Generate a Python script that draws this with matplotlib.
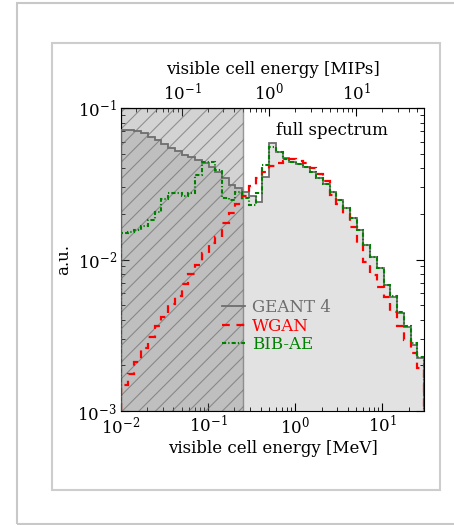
import numpy as np
import matplotlib
matplotlib.use("Agg")
import matplotlib.pyplot as plt
from matplotlib.patches import Rectangle

plt.rcParams["font.family"] = "DejaVu Serif"
plt.rcParams["mathtext.fontset"] = "dejavuserif"
plt.rcParams["font.size"] = 12
plt.rcParams["hatch.linewidth"] = 0.8

# log binning in visible cell energy [MeV]
e_min, e_max, n_bins = 0.01, 30.0, 45
mip = 0.5  # MeV per MIP
cut = 0.25  # MeV, half a MIP

geant4 = [0.0716, 0.0716, 0.0705, 0.0684, 0.0644, 0.0615, 0.0578, 0.0545, 0.0520,
          0.0490, 0.0475, 0.0454, 0.0434, 0.0408, 0.0378, 0.0345, 0.0310, 0.0297,
          0.0279, 0.0263, 0.0240, 0.0351, 0.0587, 0.0513, 0.0468, 0.0440, 0.0427,
          0.0408, 0.0378, 0.0345, 0.0315, 0.0279, 0.0247, 0.0219, 0.0188, 0.0157,
          0.0125, 0.0104, 0.00879, 0.00679, 0.00565, 0.00443, 0.00358, 0.00273, 0.00224]
wgan = [0.00148, 0.00175, 0.00211, 0.00261, 0.00308, 0.00364, 0.00417, 0.00508, 0.00574,
        0.00689, 0.00802, 0.00920, 0.0110, 0.0129, 0.0141, 0.0174, 0.0203, 0.0233,
        0.0263, 0.0306, 0.0345, 0.0378, 0.0414, 0.0434, 0.0447, 0.0461, 0.0447,
        0.0434, 0.0402, 0.0367, 0.0330, 0.0267, 0.0233, 0.0200, 0.0164, 0.0129,
        0.00962, 0.00790, 0.00658, 0.00565, 0.00450, 0.00364, 0.00294, 0.00242, 0.00192]
bibae = [0.0150, 0.0152, 0.0157, 0.0166, 0.0182, 0.0206, 0.0251, 0.0275, 0.0275,
         0.0263, 0.0275, 0.0361, 0.0440, 0.0440, 0.0390, 0.0255, 0.0247, 0.0279,
         0.0255, 0.0229, 0.0275, 0.0421, 0.0553, 0.0513, 0.0461, 0.0440, 0.0427,
         0.0408, 0.0378, 0.0345, 0.0315, 0.0279, 0.0247, 0.0219, 0.0188, 0.0157,
         0.0125, 0.0104, 0.00879, 0.00679, 0.00574, 0.00450, 0.00364, 0.00281, 0.00227]
mip_ticks = [0.1, 1, 10]

edges = np.logspace(np.log10(e_min), np.log10(e_max), n_bins + 1)

fig = plt.figure(figsize=(4.54, 5.25), dpi=100)

# page / card frames
fig.patches.append(Rectangle((17/454, 1/525), 1.2, 521/525, transform=fig.transFigure,
                             fill=False, edgecolor="#c8c8c8", lw=1.5))
fig.patches.append(Rectangle((52/454, 1 - 490/525), 388/454, 447/525, transform=fig.transFigure,
                             fill=False, edgecolor="#cdcdcd", lw=1.5))

ax = fig.add_axes([121/454, 1 - 411/525, 303/454, 303/525])

base = 1e-4
ax.stairs(geant4, edges, baseline=base, fill=True, color="#e2e2e2", zorder=1)
ax.axvspan(e_min, cut, facecolor=(0.45, 0.45, 0.45, 0.31), edgecolor=(0.42, 0.42, 0.42, 0.65),
           hatch="//", lw=1, zorder=2)
ax.stairs(geant4, edges, baseline=base, color="#6e6e6e", lw=1.3, zorder=3, label="GEANT 4")
ax.stairs(wgan, edges, baseline=base, color="red", lw=1.6, ls=(0, (3.5, 3)), zorder=4, label="WGAN")
ax.stairs(bibae, edges, baseline=base, color="green", lw=1.5, ls=(0, (2, 1, 0.6, 1)), zorder=5,
          label="BIB-AE")

ax.set_xscale("log")
ax.set_yscale("log")
ax.set_xlim(e_min, e_max)
ax.set_ylim(1e-3, 1e-1)
ax.set_xlabel("visible cell energy [MeV]", labelpad=2)
ax.set_ylabel("a.u.", labelpad=4)
ax.tick_params(which="both", direction="in", top=False, right=True)
ax.tick_params(which="major", length=6, pad=3)
ax.tick_params(which="minor", length=3)

top = ax.secondary_xaxis("top", functions=(lambda x: x / mip, lambda x: x * mip))
top.set_xticks(mip_ticks)
top.tick_params(which="both", direction="in")
top.tick_params(which="major", length=6, pad=3)
top.tick_params(which="minor", length=3)
top.set_xlabel("visible cell energy [MIPs]", labelpad=6)

ax.text(0.695, 0.925, "full spectrum", transform=ax.transAxes, ha="center", va="center",
        fontsize=12, zorder=6)

leg = ax.legend(loc="center left", bbox_to_anchor=(0.333, 0.28), frameon=False, fontsize=12,
                handlelength=1.4, handletextpad=0.4, labelspacing=0.1, borderaxespad=0,
                borderpad=0)
for txt, col in zip(leg.get_texts(), ["#6e6e6e", "red", "green"]):
    txt.set_color(col)

fig.savefig("out.png", dpi=100)
